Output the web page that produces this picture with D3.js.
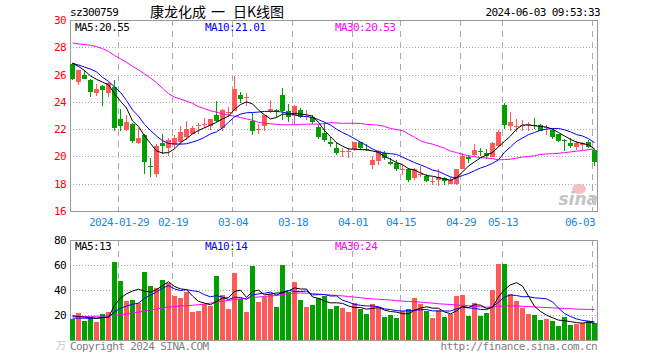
<!DOCTYPE html>
<html><head><meta charset="utf-8">
<script src="https://cdn.jsdelivr.net/npm/d3@7/dist/d3.min.js"></script>
<style>body{margin:0;background:#fff}svg{display:block}</style>
</head><body>
<svg id="c" width="660" height="360"></svg>
<script>
const dates = [
"2024-01-17","2024-01-18","2024-01-19","2024-01-22","2024-01-23","2024-01-24","2024-01-25","2024-01-26","2024-01-29","2024-01-30","2024-01-31",
"2024-02-01","2024-02-02","2024-02-05","2024-02-06","2024-02-07","2024-02-08","2024-02-19","2024-02-20","2024-02-21","2024-02-22","2024-02-23","2024-02-26","2024-02-27","2024-02-28","2024-02-29",
"2024-03-01","2024-03-04","2024-03-05","2024-03-06","2024-03-07","2024-03-08","2024-03-11","2024-03-12","2024-03-13","2024-03-14","2024-03-15","2024-03-18","2024-03-19","2024-03-20","2024-03-21","2024-03-22","2024-03-25","2024-03-26","2024-03-27","2024-03-28","2024-03-29",
"2024-04-01","2024-04-02","2024-04-03","2024-04-08","2024-04-09","2024-04-10","2024-04-11","2024-04-12","2024-04-15","2024-04-16","2024-04-17","2024-04-18","2024-04-19","2024-04-22","2024-04-23","2024-04-24","2024-04-25","2024-04-26","2024-04-29","2024-04-30",
"2024-05-06","2024-05-07","2024-05-08","2024-05-09","2024-05-10","2024-05-13","2024-05-14","2024-05-15","2024-05-16","2024-05-17","2024-05-20","2024-05-21","2024-05-22","2024-05-23","2024-05-24","2024-05-27","2024-05-28","2024-05-29","2024-05-30","2024-05-31",
"2024-06-03"];
const tickDates = ["2024-01-29","2024-02-19","2024-03-04","2024-03-18","2024-04-01","2024-04-15","2024-04-29","2024-05-13","2024-06-03"];
const tickLabels = ["2024-01-29","02-19","03-04","03-18","04-01","04-15","04-29","05-13","06-03"];
const priceTicks = [16,18,20,22,24,26,28,30];
const volTicks = [20,40,60,80];
const titleParts = ["康龙化成", "一", "日K线图"];

const open = [26.80,25.44,26.00,25.61,24.67,25.17,24.63,25.09,22.74,21.95,22.37,20.97,21.56,19.30,18.74,21.00,20.60,20.85,21.09,21.39,21.68,22.24,22.35,22.25,23.03,22.07,23.20,23.35,24.50,24.30,22.61,21.98,22.25,23.30,23.37,24.50,23.30,22.98,23.40,22.90,22.91,22.17,21.71,21.09,20.65,20.39,20.40,20.58,21.07,20.55,19.37,19.67,20.28,19.60,19.55,19.04,19.06,18.39,18.72,18.56,18.18,18.27,18.39,18.00,17.95,19.10,19.98,20.11,20.42,20.23,19.98,20.77,23.77,22.25,22.23,22.27,22.35,22.32,22.29,22.15,21.93,21.63,21.20,20.97,20.70,20.82,21.09,20.45];
const high = [26.85,26.34,26.34,25.65,25.31,25.22,25.44,25.61,23.47,23.03,22.45,22.12,21.62,19.91,20.90,21.63,21.34,21.55,22.25,22.61,22.20,22.44,22.79,22.74,24.09,23.47,23.64,25.93,24.75,24.63,23.15,22.37,23.03,24.14,23.47,25.02,23.84,23.79,23.55,23.40,23.03,22.29,22.49,21.39,21.09,20.60,20.65,21.07,21.07,20.90,20.04,20.45,20.40,19.86,19.72,19.35,19.13,19.13,19.30,18.69,18.49,19.06,18.49,18.50,19.11,20.28,20.10,20.90,20.65,20.53,21.04,21.95,23.89,23.23,22.74,22.67,22.54,22.79,22.37,22.32,22.00,21.68,21.26,21.34,21.14,21.07,21.21,20.53];
const low = [25.58,25.26,25.65,24.38,24.45,23.72,24.33,21.83,21.83,21.90,21.02,20.90,18.69,18.49,18.49,20.16,20.04,20.60,20.94,21.19,21.63,21.68,22.07,21.93,22.49,21.88,22.86,23.30,23.89,23.72,21.58,21.68,21.83,23.15,22.90,22.70,22.49,22.29,22.79,22.69,22.37,21.26,21.07,20.70,20.11,19.99,19.87,20.40,20.45,20.40,19.06,19.37,19.72,19.35,18.93,18.64,18.15,18.27,18.49,18.12,17.90,17.85,17.90,17.95,17.90,19.06,19.55,20.04,20.04,19.79,19.93,20.70,22.00,21.83,21.76,21.83,21.83,22.00,21.83,21.56,21.31,21.07,20.40,20.60,20.45,20.45,20.60,19.30];
const close = [25.68,26.30,25.68,24.75,24.97,24.90,25.36,22.12,22.25,22.56,21.14,21.34,19.60,19.25,20.75,20.77,21.24,21.32,21.80,22.00,22.12,22.27,22.38,22.74,22.61,23.40,23.25,24.94,24.21,24.33,21.88,22.00,23.03,23.47,23.35,23.35,22.91,23.72,22.91,22.96,22.49,21.39,21.19,20.90,20.23,20.42,20.43,21.07,20.60,20.52,19.72,20.40,19.91,19.47,19.10,19.06,18.25,19.06,18.74,18.20,18.20,18.49,18.20,18.26,19.11,20.04,19.81,20.48,20.40,20.04,20.99,21.76,22.32,22.49,22.25,22.30,22.37,22.30,21.88,22.17,21.44,21.14,21.18,20.77,20.97,20.95,20.70,19.62];

const ma5 = [26.83,26.60,26.30,25.90,25.65,25.45,25.25,24.60,24.05,23.55,22.60,22.20,21.50,20.95,20.40,20.25,20.28,20.55,21.00,21.30,21.65,21.90,22.10,22.30,22.50,22.75,22.95,23.45,23.80,24.00,23.85,23.40,23.05,22.75,22.85,23.10,23.10,23.15,23.10,23.05,22.95,22.50,21.90,21.45,21.00,20.75,20.55,20.53,20.50,20.48,20.40,20.30,20.00,19.80,19.55,19.40,19.10,19.00,18.80,18.60,18.55,18.45,18.35,18.25,18.45,18.85,19.30,19.60,19.90,20.10,20.30,20.70,21.10,21.50,22.00,22.30,22.30,22.25,22.20,22.15,22.00,21.75,21.50,21.25,21.05,20.95,20.85,20.55];
const ma10 = [26.83,26.70,26.55,26.40,26.20,25.80,25.50,25.10,24.70,24.10,23.40,22.95,22.35,21.90,21.50,21.15,20.95,20.92,20.90,20.93,21.05,21.20,21.40,21.65,21.80,22.10,22.50,22.90,23.10,23.20,23.22,23.25,23.30,23.30,23.30,23.25,23.15,23.05,22.95,22.92,22.85,22.70,22.50,22.30,22.00,21.75,21.55,21.30,21.05,20.80,20.55,20.35,20.25,20.20,20.15,19.95,19.75,19.55,19.38,19.20,19.00,18.90,18.70,18.50,18.42,18.60,18.75,18.95,19.15,19.30,19.50,19.75,20.30,20.70,21.10,21.35,21.60,21.75,21.92,22.00,22.05,22.05,21.95,21.80,21.60,21.50,21.30,21.01];
const ma30 = [28.32,28.25,28.20,28.15,28.05,27.90,27.70,27.40,27.15,26.90,26.60,26.35,26.05,25.75,25.40,25.00,24.60,24.35,24.20,24.05,23.90,23.65,23.50,23.35,23.25,23.12,23.03,22.95,22.85,22.75,22.65,22.50,22.42,22.40,22.35,22.32,22.32,22.32,22.35,22.37,22.37,22.37,22.40,22.48,22.45,22.43,22.43,22.43,22.42,22.35,22.32,22.30,22.20,22.05,21.97,21.90,21.65,21.40,21.15,21.00,20.90,20.75,20.60,20.40,20.28,20.15,20.04,19.98,19.91,19.88,19.84,19.75,19.77,19.80,19.88,19.95,19.99,20.05,20.15,20.18,20.20,20.23,20.28,20.33,20.38,20.43,20.50,20.55];

const volume = [16.5,21.3,15.5,18.1,14.7,20.5,22.7,62.7,47.2,31.5,32,29.9,54.7,43.2,41.9,48,45.3,35.5,33.9,38.7,22.7,23.5,28.8,27.5,51.5,36,25.1,53.9,32.8,22.7,59.5,30.7,34.7,36.5,26.7,60,38.7,46.7,32,26.7,28,33.3,35.5,24.8,27.2,25.6,22.7,29.3,25.1,20.8,28.8,25.9,18.7,20,17.9,23.2,24.5,33.3,28.8,23.2,17.9,24,18.7,20.8,35.2,36,19.2,29.9,19.2,21.9,40,60.8,60.8,36.8,31.2,25.9,20.8,20,16,16.8,15.5,11.2,18.1,12,12.8,13.3,15.2,13.9];
const vma5 = [19.5,18.8,18.3,17.8,17.2,18.0,18.3,27.7,33.6,36.9,39.2,40.7,39.1,38.3,40.3,43.5,46.6,42.8,40.9,40.3,35.2,30.9,29.5,28.2,30.8,33.5,33.8,38.8,39.9,34.1,38.8,39.9,36.1,36.8,37.6,37.7,39.3,41.7,40.8,40.8,34.4,33.3,31.1,29.7,29.8,29.3,27.2,25.9,26.0,24.7,25.3,26.0,23.9,22.8,22.3,21.1,20.9,23.8,25.5,26.6,25.5,25.4,22.5,20.9,23.3,26.9,26.0,28.2,27.9,25.2,26.0,34.4,40.5,44.1,45.9,43.1,35.1,26.9,22.8,19.9,17.8,15.9,15.5,14.7,13.9,13.5,14.3,13.4];
const vma10 = [17.5,17.5,17.4,17.4,17.6,17.9,18.3,22.5,25.5,27.1,28.6,29.5,33.4,35.9,38.6,41.4,43.6,40.9,39.6,40.3,39.4,38.7,36.2,34.6,35.5,34.3,32.3,34.2,34.1,32.5,36.1,36.9,37.4,38.3,35.9,38.3,39.6,38.9,38.8,39.2,36.1,36.3,36.4,35.2,35.3,31.9,30.3,28.5,27.8,27.2,27.3,26.6,24.9,24.4,23.5,23.2,23.4,23.8,24.2,24.4,23.3,23.2,23.2,23.2,25.0,26.2,25.7,25.4,24.4,24.3,26.5,30.2,34.4,36.0,35.6,34.6,34.7,33.7,33.4,32.9,30.5,25.5,21.2,18.8,16.9,15.7,15.1,14.5];
const vma30 = [18.7,18.8,18.8,18.9,19.0,19.1,19.3,19.7,20.2,20.8,21.5,22.3,23.2,24.0,24.8,25.6,26.3,26.8,27.2,27.5,27.8,28.2,28.8,29.5,30.3,31.0,31.7,32.4,33.0,33.3,34.0,34.4,34.8,35.3,35.6,36.4,37.0,37.5,37.6,37.5,37.2,36.8,36.3,36.0,35.6,35.3,34.8,34.3,33.9,33.2,32.9,32.6,32.3,32.0,31.5,31.1,30.9,30.7,30.3,29.9,29.5,29.0,28.7,28.4,28.0,27.7,27.4,27.0,26.5,26.3,26.5,27.0,27.3,27.3,27.2,27.0,26.7,26.5,26.2,26.0,25.7,25.4,25.2,25.0,24.8,24.6,24.5,24.4];

const legendPrice = ["MA5:20.55","MA10:21.01","MA30:20.53"];
const legendVol = ["MA5:13","MA10:14","MA30:24"];
const maColors = ["#000000","#0000ff","#ff00ff"];

const svg = d3.select("#c");
const MONO = "'DejaVu Sans Mono', monospace";
const CJK = "'Noto Sans CJK SC', sans-serif";
const UP = "#ff5a5a", DOWN = "#00a000";
const GRID = "#aaaaaa", BORDER = "#999999";

const L = 70, R = 598;
const x = d3.scaleBand().domain(dates).range([L, R]).padding(0);
const y = d3.scaleLinear().domain([16, 30]).range([211, 20]);
const yv = d3.scaleLinear().domain([0, 80]).range([340, 240]);
const cx = d => Math.round(x(d)) + 2.5;

function txt(g, s, xx, yy, opt) {
  return g.append("text").attr("x", xx).attr("y", yy).text(s)
    .attr("font-family", opt.font || MONO).attr("font-size", opt.size || 11)
    .attr("fill", opt.fill || "#000").attr("text-anchor", opt.anchor || "start")
    .attr("letter-spacing", opt.ls == null ? -0.6 : opt.ls);
}

// header
txt(svg, "sz300759", L, 16, {});
[150, 211, 233].forEach((xx, k) => txt(svg, titleParts[k], xx, 17, {font: CJK, size: 14, ls: 0}));
txt(svg, "2024-06-03 09:53:33", 600, 16, {anchor: "end"});

function panel(yScale, ticks, top, bottom, tickColor, tickFmt) {
  const g = svg.append("g").attr("shape-rendering", "crispEdges");
  g.selectAll("line.h").data(ticks.filter(t => yScale(t) > top + 1 && yScale(t) < bottom - 1)).join("line")
    .attr("x1", L).attr("x2", R).attr("y1", t => Math.round(yScale(t)) + 0.5).attr("y2", t => Math.round(yScale(t)) + 0.5)
    .attr("stroke", GRID).attr("stroke-dasharray", "1,2");
  g.selectAll("line.v").data(tickDates).join("line")
    .attr("x1", d => Math.round(x(d)) + 0.5).attr("x2", d => Math.round(x(d)) + 0.5)
    .attr("y1", top).attr("y2", bottom)
    .attr("stroke", GRID).attr("stroke-dasharray", "6,5");
  g.append("rect").attr("x", L + 0.5).attr("y", top + 0.5).attr("width", R - L - 1).attr("height", bottom - top)
    .attr("fill", "none").attr("stroke", BORDER);
  ticks.forEach(t => txt(svg, tickFmt(t), 66, yScale(t) + 4, {anchor: "end", fill: tickColor}));
}

panel(y, priceTicks, 20, 211, "#ff0000", d => d);
panel(yv, volTicks, 240, 340, "#000000", d => d);
txt(svg, "万", 66, 349, {anchor: "end", fill: "#c8c8c8", font: CJK, size: 10, ls: 0});

// x-axis date labels
tickLabels.forEach((s, k) => {
  const last = k === tickLabels.length - 1;
  txt(svg, s, last ? 595 : Math.round(x(tickDates[k])) + 1, 226, {anchor: last ? "end" : "middle", fill: "#1a88e0"});
});

// sina watermark
svg.append("ellipse").attr("cx", 579).attr("cy", 189).attr("rx", 7).attr("ry", 5).attr("fill", "#f5c0c0");
txt(svg, "sina", 598, 205, {anchor: "end", fill: "#c4c4c4", font: "'DejaVu Sans', sans-serif", size: 17, ls: 0})
  .attr("font-style", "italic").attr("font-weight", "bold");

// candles
const idx = d3.range(dates.length);
const cg = svg.append("g").attr("shape-rendering", "crispEdges");
cg.selectAll("rect.w").data(idx).join("rect")
  .attr("x", i => Math.round(x(dates[i])) + 2).attr("width", 1)
  .attr("y", i => y(high[i])).attr("height", i => Math.max(1, y(low[i]) - y(high[i])))
  .attr("fill", i => close[i] >= open[i] ? UP : DOWN);
cg.selectAll("rect.b").data(idx).join("rect")
  .attr("x", i => Math.round(x(dates[i]))).attr("width", 5)
  .attr("y", i => y(Math.max(open[i], close[i])))
  .attr("height", i => Math.max(1, Math.abs(y(open[i]) - y(close[i]))))
  .attr("fill", i => close[i] >= open[i] ? UP : DOWN);

// volume bars
cg.selectAll("rect.v").data(idx).join("rect")
  .attr("x", i => Math.round(x(dates[i]))).attr("width", 5)
  .attr("y", i => yv(volume[i])).attr("height", i => yv(0) - yv(volume[i]))
  .attr("fill", i => close[i] >= open[i] ? UP : DOWN);

// MA lines
function maLine(arr, ys, color) {
  svg.append("path").datum(idx)
    .attr("d", d3.line().x(i => cx(dates[i])).y(i => ys(arr[i])))
    .attr("fill", "none").attr("stroke", color).attr("stroke-width", 1);
}
maLine(ma30, y, maColors[2]); maLine(ma10, y, maColors[1]); maLine(ma5, y, maColors[0]);
maLine(vma30, yv, maColors[2]); maLine(vma10, yv, maColors[1]); maLine(vma5, yv, maColors[0]);

// legends
const legX = [75, 205, 335];
legendPrice.forEach((s, k) => txt(svg, s, legX[k], 31, {fill: maColors[k]}));
legendVol.forEach((s, k) => txt(svg, s, legX[k], 250, {fill: maColors[k]}));

// footer
txt(svg, "Copyright 2024 SINA.COM", L, 350, {fill: "#808080"});
txt(svg, "http://finance.sina.com.cn", 597, 350, {fill: "#808080", anchor: "end"});
</script>
</body></html>
